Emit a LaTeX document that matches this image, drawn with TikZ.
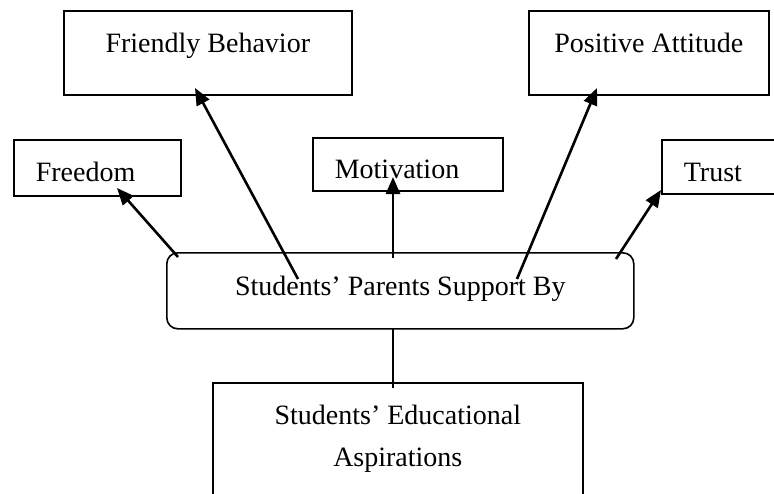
\documentclass[tikz,border=0pt]{standalone}
\usepackage{fontspec}
\setmainfont{Liberation Serif}
\usetikzlibrary{arrows.meta}
\begin{document}
\begin{tikzpicture}[x=1pt,y=-1pt,
  box/.style={draw, line width=1.6pt, inner sep=0pt, anchor=north west,
    font=\fontsize{28}{42}\selectfont},
  leftbox/.style={box, align=left, inner xsep=22pt},
  conn/.style={line width=2.6pt, -{Triangle[length=17pt,width=14pt]}},
  link/.style={line width=2.6pt}]
\clip (0,0) rectangle (774,493);
\fill[white] (0,0) rectangle (774,493);

% boxes
\node[box, minimum width=288pt, text height=42pt, text depth=42pt] (fb) at (63,10) {Friendly Behavior};
\node[box, minimum width=240pt, text height=42pt, text depth=42pt] (pa) at (528,10) {Positive Attitude};
\node[leftbox, text width=123pt, text height=42pt, text depth=14pt] (fr) at (13,139) {Freedom};
\node[leftbox, text width=146pt, text height=41pt, text depth=12pt] (mo) at (312,137) {Motivation};
\node[leftbox, text width=106pt, text height=42pt, text depth=12pt] (tr) at (661,139) {Trust};
\node[box, rounded corners=11pt, minimum width=467pt, text height=43pt, text depth=33pt] (sp) at (166,252) {Students’ Parents Support By};
\node[box, minimum width=370pt, text height=42pt, text depth=100pt] (ea) at (212,382)
  {\parbox[t]{370pt}{\centering\fontsize{28}{42}\selectfont Students’ Educational\\Aspirations}};

% connector end points
\coordinate (s-fr) at (178,257);
\coordinate (t-fr) at (117,188);
\coordinate (s-fb) at (298,279);
\coordinate (t-fb) at (195,88);
\coordinate (s-mo) at (393,258);
\coordinate (t-mo) at (393,177);
\coordinate (s-pa) at (517,279);
\coordinate (t-pa) at (597,88);
\coordinate (s-tr) at (616,259);
\coordinate (t-tr) at (661,190);
\coordinate (s-ea) at (393,328);
\coordinate (t-ea) at (393,388);

\draw[conn] (s-fr) -- (t-fr);
\draw[conn] (s-fb) -- (t-fb);
\draw[conn] (s-mo) -- (t-mo);
\draw[conn] (s-pa) -- (t-pa);
\draw[conn] (s-tr) -- (t-tr);
\draw[link] (s-ea) -- (t-ea);
\end{tikzpicture}
\end{document}
